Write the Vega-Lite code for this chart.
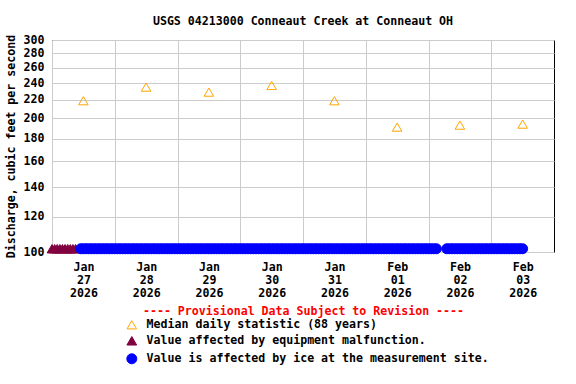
{
"$schema": "https://vega.github.io/schema/vega-lite/v6.json",
"width": 502, "height": 212,
"autosize": {"type": "none"},
"padding": {"left": 52, "top": 40, "right": 22, "bottom": 132},
"background": "white",
"title": {"text": "USGS 04213000 Conneaut Creek at Conneaut OH", "font": "DejaVu Sans Mono", "fontSize": 11.6, "fontWeight": "bold", "color": "black", "offset": 6, "anchor": "middle", "frame": "group"},
"config": {
 "view": {"stroke": "black", "strokeWidth": 1},
 "axis": {"labelFont": "DejaVu Sans Mono", "labelFontSize": 11.6, "labelFontWeight": "bold", "labelColor": "black", "titleFont": "DejaVu Sans Mono", "titleFontSize": 11.6, "titleFontWeight": "bold", "titleColor": "black", "gridColor": "#cccccc", "gridOpacity": 1, "gridWidth": 1, "domain": false, "ticks": false},
 "legend": {"labelFont": "DejaVu Sans Mono", "labelFontSize": 11.6, "labelFontWeight": "bold", "labelColor": "black", "symbolStrokeWidth": 1, "labelLimit": 0}
},
"data": {"values": [
{"t":"2026-01-27T00:00","q":101.7,"s":"e"},{"t":"2026-01-27T01:00","q":101.7,"s":"e"},{"t":"2026-01-27T02:00","q":101.7,"s":"e"},{"t":"2026-01-27T03:00","q":101.7,"s":"e"},{"t":"2026-01-27T04:00","q":101.7,"s":"e"},{"t":"2026-01-27T05:00","q":101.7,"s":"e"},{"t":"2026-01-27T06:00","q":101.7,"s":"e"},{"t":"2026-01-27T07:00","q":101.7,"s":"e"},{"t":"2026-01-27T08:00","q":101.7,"s":"e"},{"t":"2026-01-27T09:00","q":101.7,"s":"e"},
{"t":"2026-01-27T11:00","q":101.7,"s":"i"},{"t":"2026-01-27T12:00","q":101.7,"s":"i"},{"t":"2026-01-27T13:00","q":101.7,"s":"i"},{"t":"2026-01-27T14:00","q":101.7,"s":"i"},{"t":"2026-01-27T15:00","q":101.7,"s":"i"},{"t":"2026-01-27T16:00","q":101.7,"s":"i"},{"t":"2026-01-27T17:00","q":101.7,"s":"i"},{"t":"2026-01-27T18:00","q":101.7,"s":"i"},{"t":"2026-01-27T19:00","q":101.7,"s":"i"},{"t":"2026-01-27T20:00","q":101.7,"s":"i"},{"t":"2026-01-27T21:00","q":101.7,"s":"i"},{"t":"2026-01-27T22:00","q":101.7,"s":"i"},{"t":"2026-01-27T23:00","q":101.7,"s":"i"},
{"t":"2026-01-28T00:00","q":101.7,"s":"i"},{"t":"2026-01-28T01:00","q":101.7,"s":"i"},{"t":"2026-01-28T02:00","q":101.7,"s":"i"},{"t":"2026-01-28T03:00","q":101.7,"s":"i"},{"t":"2026-01-28T04:00","q":101.7,"s":"i"},{"t":"2026-01-28T05:00","q":101.7,"s":"i"},{"t":"2026-01-28T06:00","q":101.7,"s":"i"},{"t":"2026-01-28T07:00","q":101.7,"s":"i"},{"t":"2026-01-28T08:00","q":101.7,"s":"i"},{"t":"2026-01-28T09:00","q":101.7,"s":"i"},{"t":"2026-01-28T10:00","q":101.7,"s":"i"},{"t":"2026-01-28T11:00","q":101.7,"s":"i"},{"t":"2026-01-28T12:00","q":101.7,"s":"i"},{"t":"2026-01-28T13:00","q":101.7,"s":"i"},{"t":"2026-01-28T14:00","q":101.7,"s":"i"},{"t":"2026-01-28T15:00","q":101.7,"s":"i"},{"t":"2026-01-28T16:00","q":101.7,"s":"i"},{"t":"2026-01-28T17:00","q":101.7,"s":"i"},{"t":"2026-01-28T18:00","q":101.7,"s":"i"},{"t":"2026-01-28T19:00","q":101.7,"s":"i"},{"t":"2026-01-28T20:00","q":101.7,"s":"i"},{"t":"2026-01-28T21:00","q":101.7,"s":"i"},{"t":"2026-01-28T22:00","q":101.7,"s":"i"},{"t":"2026-01-28T23:00","q":101.7,"s":"i"},
{"t":"2026-01-29T00:00","q":101.7,"s":"i"},{"t":"2026-01-29T01:00","q":101.7,"s":"i"},{"t":"2026-01-29T02:00","q":101.7,"s":"i"},{"t":"2026-01-29T03:00","q":101.7,"s":"i"},{"t":"2026-01-29T04:00","q":101.7,"s":"i"},{"t":"2026-01-29T05:00","q":101.7,"s":"i"},{"t":"2026-01-29T06:00","q":101.7,"s":"i"},{"t":"2026-01-29T07:00","q":101.7,"s":"i"},{"t":"2026-01-29T08:00","q":101.7,"s":"i"},{"t":"2026-01-29T09:00","q":101.7,"s":"i"},{"t":"2026-01-29T10:00","q":101.7,"s":"i"},{"t":"2026-01-29T11:00","q":101.7,"s":"i"},{"t":"2026-01-29T12:00","q":101.7,"s":"i"},{"t":"2026-01-29T13:00","q":101.7,"s":"i"},{"t":"2026-01-29T14:00","q":101.7,"s":"i"},{"t":"2026-01-29T15:00","q":101.7,"s":"i"},{"t":"2026-01-29T16:00","q":101.7,"s":"i"},{"t":"2026-01-29T17:00","q":101.7,"s":"i"},{"t":"2026-01-29T18:00","q":101.7,"s":"i"},{"t":"2026-01-29T19:00","q":101.7,"s":"i"},{"t":"2026-01-29T20:00","q":101.7,"s":"i"},{"t":"2026-01-29T21:00","q":101.7,"s":"i"},{"t":"2026-01-29T22:00","q":101.7,"s":"i"},{"t":"2026-01-29T23:00","q":101.7,"s":"i"},
{"t":"2026-01-30T00:00","q":101.7,"s":"i"},{"t":"2026-01-30T01:00","q":101.7,"s":"i"},{"t":"2026-01-30T02:00","q":101.7,"s":"i"},{"t":"2026-01-30T03:00","q":101.7,"s":"i"},{"t":"2026-01-30T04:00","q":101.7,"s":"i"},{"t":"2026-01-30T05:00","q":101.7,"s":"i"},{"t":"2026-01-30T06:00","q":101.7,"s":"i"},{"t":"2026-01-30T07:00","q":101.7,"s":"i"},{"t":"2026-01-30T08:00","q":101.7,"s":"i"},{"t":"2026-01-30T09:00","q":101.7,"s":"i"},{"t":"2026-01-30T10:00","q":101.7,"s":"i"},{"t":"2026-01-30T11:00","q":101.7,"s":"i"},{"t":"2026-01-30T12:00","q":101.7,"s":"i"},{"t":"2026-01-30T13:00","q":101.7,"s":"i"},{"t":"2026-01-30T14:00","q":101.7,"s":"i"},{"t":"2026-01-30T15:00","q":101.7,"s":"i"},{"t":"2026-01-30T16:00","q":101.7,"s":"i"},{"t":"2026-01-30T17:00","q":101.7,"s":"i"},{"t":"2026-01-30T18:00","q":101.7,"s":"i"},{"t":"2026-01-30T19:00","q":101.7,"s":"i"},{"t":"2026-01-30T20:00","q":101.7,"s":"i"},{"t":"2026-01-30T21:00","q":101.7,"s":"i"},{"t":"2026-01-30T22:00","q":101.7,"s":"i"},{"t":"2026-01-30T23:00","q":101.7,"s":"i"},
{"t":"2026-01-31T00:00","q":101.7,"s":"i"},{"t":"2026-01-31T01:00","q":101.7,"s":"i"},{"t":"2026-01-31T02:00","q":101.7,"s":"i"},{"t":"2026-01-31T03:00","q":101.7,"s":"i"},{"t":"2026-01-31T04:00","q":101.7,"s":"i"},{"t":"2026-01-31T05:00","q":101.7,"s":"i"},{"t":"2026-01-31T06:00","q":101.7,"s":"i"},{"t":"2026-01-31T07:00","q":101.7,"s":"i"},{"t":"2026-01-31T08:00","q":101.7,"s":"i"},{"t":"2026-01-31T09:00","q":101.7,"s":"i"},{"t":"2026-01-31T10:00","q":101.7,"s":"i"},{"t":"2026-01-31T11:00","q":101.7,"s":"i"},{"t":"2026-01-31T12:00","q":101.7,"s":"i"},{"t":"2026-01-31T13:00","q":101.7,"s":"i"},{"t":"2026-01-31T14:00","q":101.7,"s":"i"},{"t":"2026-01-31T15:00","q":101.7,"s":"i"},{"t":"2026-01-31T16:00","q":101.7,"s":"i"},{"t":"2026-01-31T17:00","q":101.7,"s":"i"},{"t":"2026-01-31T18:00","q":101.7,"s":"i"},{"t":"2026-01-31T19:00","q":101.7,"s":"i"},{"t":"2026-01-31T20:00","q":101.7,"s":"i"},{"t":"2026-01-31T21:00","q":101.7,"s":"i"},{"t":"2026-01-31T22:00","q":101.7,"s":"i"},{"t":"2026-01-31T23:00","q":101.7,"s":"i"},
{"t":"2026-02-01T00:00","q":101.7,"s":"i"},{"t":"2026-02-01T01:00","q":101.7,"s":"i"},{"t":"2026-02-01T02:00","q":101.7,"s":"i"},{"t":"2026-02-01T03:00","q":101.7,"s":"i"},{"t":"2026-02-01T04:00","q":101.7,"s":"i"},{"t":"2026-02-01T05:00","q":101.7,"s":"i"},{"t":"2026-02-01T06:00","q":101.7,"s":"i"},{"t":"2026-02-01T07:00","q":101.7,"s":"i"},{"t":"2026-02-01T08:00","q":101.7,"s":"i"},{"t":"2026-02-01T09:00","q":101.7,"s":"i"},{"t":"2026-02-01T10:00","q":101.7,"s":"i"},{"t":"2026-02-01T11:00","q":101.7,"s":"i"},{"t":"2026-02-01T12:00","q":101.7,"s":"i"},{"t":"2026-02-01T13:00","q":101.7,"s":"i"},{"t":"2026-02-01T14:00","q":101.7,"s":"i"},{"t":"2026-02-01T15:00","q":101.7,"s":"i"},{"t":"2026-02-01T16:00","q":101.7,"s":"i"},{"t":"2026-02-01T17:00","q":101.7,"s":"i"},{"t":"2026-02-01T18:00","q":101.7,"s":"i"},{"t":"2026-02-01T19:00","q":101.7,"s":"i"},{"t":"2026-02-01T20:00","q":101.7,"s":"i"},{"t":"2026-02-01T21:00","q":101.7,"s":"i"},{"t":"2026-02-01T22:00","q":101.7,"s":"i"},{"t":"2026-02-01T23:00","q":101.7,"s":"i"},
{"t":"2026-02-02T00:00","q":101.7,"s":"i"},{"t":"2026-02-02T01:00","q":101.7,"s":"i"},{"t":"2026-02-02T02:00","q":101.7,"s":"i"},{"t":"2026-02-02T03:00","q":101.7,"s":"i"},
{"t":"2026-02-02T07:00","q":101.7,"s":"i"},{"t":"2026-02-02T08:00","q":101.7,"s":"i"},{"t":"2026-02-02T09:00","q":101.7,"s":"i"},{"t":"2026-02-02T10:00","q":101.7,"s":"i"},{"t":"2026-02-02T11:00","q":101.7,"s":"i"},{"t":"2026-02-02T12:00","q":101.7,"s":"i"},{"t":"2026-02-02T13:00","q":101.7,"s":"i"},{"t":"2026-02-02T14:00","q":101.7,"s":"i"},{"t":"2026-02-02T15:00","q":101.7,"s":"i"},{"t":"2026-02-02T16:00","q":101.7,"s":"i"},{"t":"2026-02-02T17:00","q":101.7,"s":"i"},{"t":"2026-02-02T18:00","q":101.7,"s":"i"},{"t":"2026-02-02T19:00","q":101.7,"s":"i"},{"t":"2026-02-02T20:00","q":101.7,"s":"i"},{"t":"2026-02-02T21:00","q":101.7,"s":"i"},{"t":"2026-02-02T22:00","q":101.7,"s":"i"},{"t":"2026-02-02T23:00","q":101.7,"s":"i"},
{"t":"2026-02-03T00:00","q":101.7,"s":"i"},{"t":"2026-02-03T01:00","q":101.7,"s":"i"},{"t":"2026-02-03T02:00","q":101.7,"s":"i"},{"t":"2026-02-03T03:00","q":101.7,"s":"i"},{"t":"2026-02-03T04:00","q":101.7,"s":"i"},{"t":"2026-02-03T05:00","q":101.7,"s":"i"},{"t":"2026-02-03T06:00","q":101.7,"s":"i"},{"t":"2026-02-03T07:00","q":101.7,"s":"i"},{"t":"2026-02-03T08:00","q":101.7,"s":"i"},{"t":"2026-02-03T09:00","q":101.7,"s":"i"},{"t":"2026-02-03T10:00","q":101.7,"s":"i"},{"t":"2026-02-03T11:00","q":101.7,"s":"i"},{"t":"2026-02-03T12:00","q":101.7,"s":"i"},
{"t":"2026-01-27T12:00","q":219,"s":"m"},{"t":"2026-01-28T12:00","q":235,"s":"m"},{"t":"2026-01-29T12:00","q":229,"s":"m"},{"t":"2026-01-30T12:00","q":237,"s":"m"},{"t":"2026-01-31T12:00","q":219,"s":"m"},{"t":"2026-02-01T12:00","q":191,"s":"m"},{"t":"2026-02-02T12:00","q":193,"s":"m"},{"t":"2026-02-03T12:00","q":194,"s":"m"}
]},
"mark": {"type": "point", "filled": false, "opacity": 1, "strokeWidth": 1},
"encoding": {
 "x": {"field": "t", "type": "temporal",
  "scale": {"domain": [{"year": 2026, "month": "jan", "date": 27}, {"year": 2026, "month": "feb", "date": 4}]},
  "axis": {"values": [{"year": 2026, "month": "jan", "date": 27}, {"year": 2026, "month": "jan", "date": 28}, {"year": 2026, "month": "jan", "date": 29}, {"year": 2026, "month": "jan", "date": 30}, {"year": 2026, "month": "jan", "date": 31}, {"year": 2026, "month": "feb", "date": 1}, {"year": 2026, "month": "feb", "date": 2}, {"year": 2026, "month": "feb", "date": 3}],
   "labelExpr": "[timeFormat(datum.value, '%b'), timeFormat(datum.value, '%d'), timeFormat(datum.value, '%Y')]",
   "labelOffset": 31.4, "labelPadding": 9, "labelLineHeight": 13, "labelAlign": "center", "labelBaseline": "top", "labelOverlap": false, "labelFlush": false,
   "title": "---- Provisional Data Subject to Revision ----", "titleColor": "#ff0000", "titleX": 251, "titleY": 59, "titleBaseline": "middle", "titleAnchor": "middle", "titleAlign": "center"}},
 "y": {"field": "q", "type": "quantitative",
  "scale": {"type": "log", "domain": [100, 300], "nice": false},
  "axis": {"values": [100, 120, 140, 160, 180, 200, 220, 240, 260, 280, 300], "format": "d", "labelPadding": 8, "title": "Discharge, cubic feet per second", "titlePadding": 7}},
 "shape": {"field": "s", "type": "nominal", "scale": {"domain": ["m", "e", "i"], "range": ["triangle-up", "triangle-up", "circle"]},
  "legend": {"orient": "none", "legendX": 74, "legendY": 279, "title": null, "labelOffset": 9, "rowPadding": 3, "labelLimit": 0, "labelExpr": "datum.label == 'm' ? 'Median daily statistic (88 years)' : datum.label == 'e' ? 'Value affected by equipment malfunction.' : 'Value is affected by ice at the measurement site.'"}},
 "fill": {"field": "s", "type": "nominal", "scale": {"domain": ["m", "e", "i"], "range": ["transparent", "#800040", "#0000ff"]},
  "legend": {"orient": "none", "legendX": 74, "legendY": 279, "title": null, "labelOffset": 9, "rowPadding": 3, "labelLimit": 0, "labelExpr": "datum.label == 'm' ? 'Median daily statistic (88 years)' : datum.label == 'e' ? 'Value affected by equipment malfunction.' : 'Value is affected by ice at the measurement site.'"}},
 "stroke": {"field": "s", "type": "nominal", "scale": {"domain": ["m", "e", "i"], "range": ["#ffa500", "#800040", "#0000ff"]},
  "legend": {"orient": "none", "legendX": 74, "legendY": 279, "title": null, "labelOffset": 9, "rowPadding": 3, "labelLimit": 0, "labelExpr": "datum.label == 'm' ? 'Median daily statistic (88 years)' : datum.label == 'e' ? 'Value affected by equipment malfunction.' : 'Value is affected by ice at the measurement site.'"}},
 "size": {"field": "s", "type": "nominal", "scale": {"domain": ["m", "e", "i"], "range": [90, 100, 40]},
  "legend": {"orient": "none", "legendX": 74, "legendY": 279, "title": null, "labelOffset": 9, "rowPadding": 3, "labelLimit": 0, "labelExpr": "datum.label == 'm' ? 'Median daily statistic (88 years)' : datum.label == 'e' ? 'Value affected by equipment malfunction.' : 'Value is affected by ice at the measurement site.'"}}
}
}
